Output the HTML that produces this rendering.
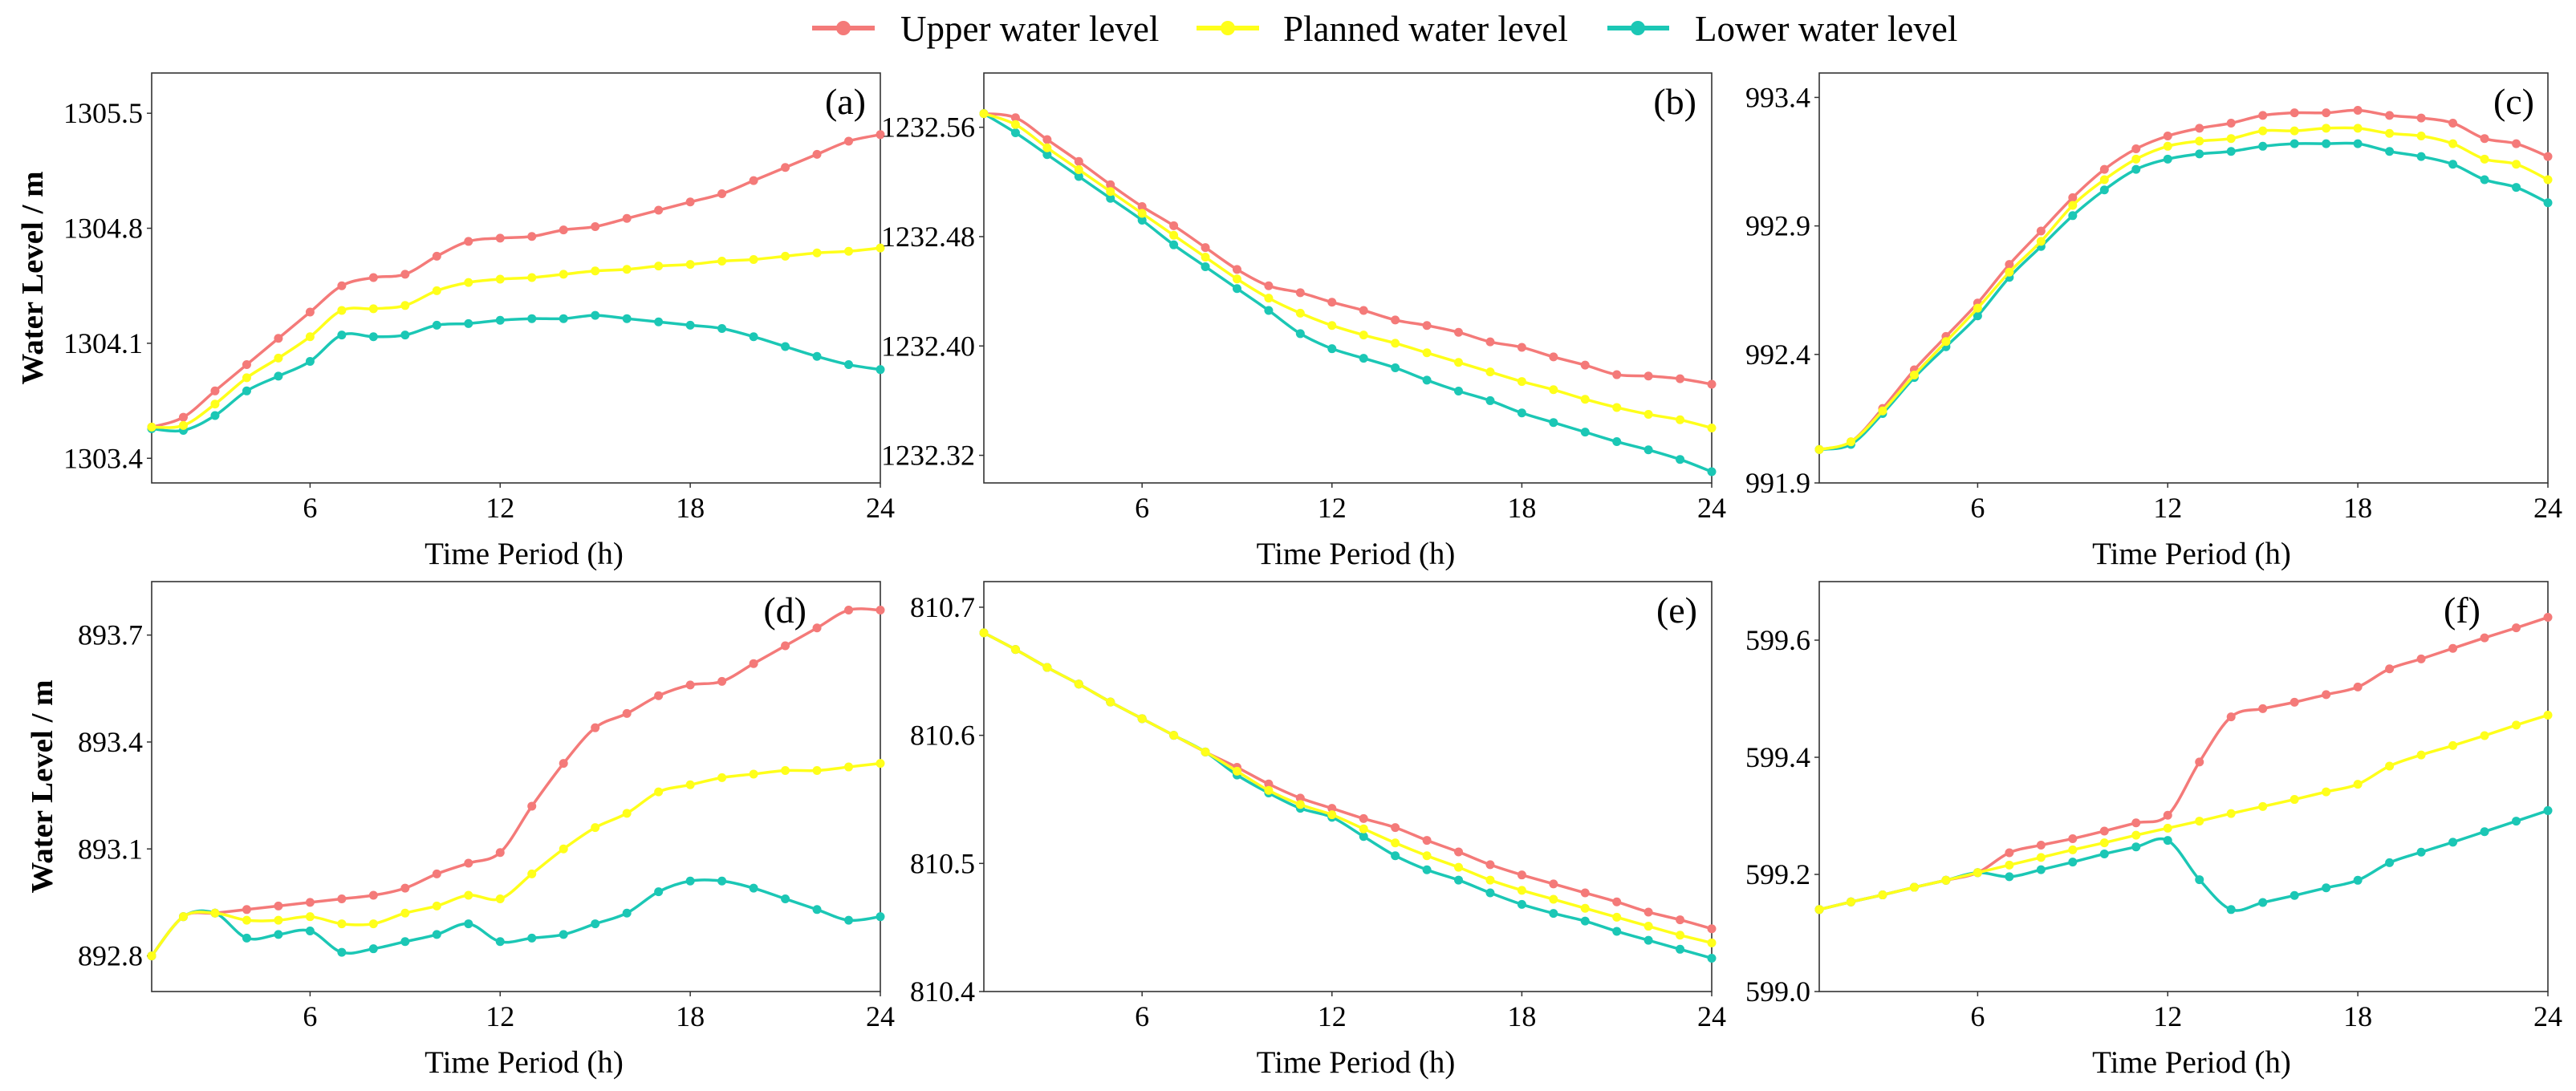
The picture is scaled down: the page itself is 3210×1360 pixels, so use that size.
<!DOCTYPE html>
<html><head><meta charset="utf-8"><style>
html,body{margin:0;padding:0;background:#fff;}
svg{display:block;font-family:"Liberation Serif",serif;}
</style></head><body>
<svg id="fig" width="3210" height="1360" viewBox="0 0 3210 1360" xmlns="http://www.w3.org/2000/svg">
<g id="legend">
  <g>
    <line x1="1012" y1="35" x2="1090" y2="35" stroke="#F47A79" stroke-width="6"/>
    <circle cx="1051" cy="35" r="9" fill="#F47A79"/>
    <text x="1122" y="51" font-size="45">Upper water level</text>
  </g>
  <g>
    <line x1="1491" y1="35" x2="1569" y2="35" stroke="#FFFF1A" stroke-width="6"/>
    <circle cx="1530" cy="35" r="9" fill="#FFFF1A"/>
    <text x="1599" y="51" font-size="45">Planned water level</text>
  </g>
  <g>
    <line x1="2003" y1="35" x2="2080" y2="35" stroke="#1BC7B5" stroke-width="6"/>
    <circle cx="2041" cy="35" r="9" fill="#1BC7B5"/>
    <text x="2112" y="51" font-size="45">Lower water level</text>
  </g>
</g>
</svg>
<script>
const hours = [1,2,3,4,5,6,7,8,9,10,11,12,13,14,15,16,17,18,19,20,21,22,23,24];
const xTicks = [6,12,18,24];

const upperA = [1303.59,1303.65,1303.81,1303.97,1304.13,1304.29,1304.45,1304.50,1304.52,1304.63,1304.72,1304.74,1304.75,1304.79,1304.81,1304.86,1304.91,1304.96,1305.01,1305.09,1305.17,1305.25,1305.33,1305.37];
const plannedA = [1303.59,1303.60,1303.73,1303.89,1304.01,1304.14,1304.30,1304.31,1304.33,1304.42,1304.47,1304.49,1304.50,1304.52,1304.54,1304.55,1304.57,1304.58,1304.60,1304.61,1304.63,1304.65,1304.66,1304.68];
const lowerA = [1303.58,1303.57,1303.66,1303.81,1303.90,1303.99,1304.15,1304.14,1304.15,1304.21,1304.22,1304.24,1304.25,1304.25,1304.27,1304.25,1304.23,1304.21,1304.19,1304.14,1304.08,1304.02,1303.97,1303.94];
const ticksA = ["1303.4","1304.1","1304.8","1305.5"];

const upperB = [1232.570,1232.567,1232.551,1232.535,1232.518,1232.502,1232.488,1232.472,1232.456,1232.444,1232.439,1232.432,1232.426,1232.419,1232.415,1232.410,1232.403,1232.399,1232.392,1232.386,1232.379,1232.378,1232.376,1232.372];
const plannedB = [1232.570,1232.562,1232.545,1232.529,1232.513,1232.497,1232.481,1232.465,1232.449,1232.435,1232.424,1232.415,1232.408,1232.402,1232.395,1232.388,1232.381,1232.374,1232.368,1232.361,1232.355,1232.350,1232.346,1232.340];
const lowerB = [1232.570,1232.556,1232.540,1232.524,1232.508,1232.492,1232.474,1232.458,1232.442,1232.426,1232.409,1232.398,1232.391,1232.384,1232.375,1232.367,1232.360,1232.351,1232.344,1232.337,1232.330,1232.324,1232.317,1232.308];
const ticksB = ["1232.32","1232.40","1232.48","1232.56"];

const upperC = [992.03,992.06,992.19,992.34,992.47,992.60,992.75,992.88,993.01,993.12,993.20,993.25,993.28,993.30,993.33,993.34,993.34,993.35,993.33,993.32,993.30,993.24,993.22,993.17];
const plannedC = [992.03,992.06,992.18,992.32,992.45,992.58,992.72,992.84,992.98,993.08,993.16,993.21,993.23,993.24,993.27,993.27,993.28,993.28,993.26,993.25,993.22,993.16,993.14,993.08];
const lowerC = [992.03,992.05,992.17,992.31,992.43,992.55,992.70,992.82,992.94,993.04,993.12,993.16,993.18,993.19,993.21,993.22,993.22,993.22,993.19,993.17,993.14,993.08,993.05,992.99];
const ticksC = ["991.9","992.4","992.9","993.4"];

const upperD = [892.80,892.91,892.92,892.93,892.94,892.95,892.96,892.97,892.99,893.03,893.06,893.09,893.22,893.34,893.44,893.48,893.53,893.56,893.57,893.62,893.67,893.72,893.77,893.77];
const plannedD = [892.80,892.91,892.92,892.90,892.90,892.91,892.89,892.89,892.92,892.94,892.97,892.96,893.03,893.10,893.16,893.20,893.26,893.28,893.30,893.31,893.32,893.32,893.33,893.34];
const lowerD = [892.80,892.91,892.92,892.85,892.86,892.87,892.81,892.82,892.84,892.86,892.89,892.84,892.85,892.86,892.89,892.92,892.98,893.01,893.01,892.99,892.96,892.93,892.90,892.91];
const ticksD = ["892.8","893.1","893.4","893.7"];

const upperE = [810.680,810.667,810.653,810.640,810.626,810.613,810.600,810.587,810.575,810.562,810.551,810.543,810.535,810.528,810.518,810.509,810.499,810.491,810.484,810.477,810.470,810.462,810.456,810.449];
const plannedE = [810.680,810.667,810.653,810.640,810.626,810.613,810.600,810.587,810.572,810.557,810.546,810.538,810.527,810.516,810.506,810.497,810.487,810.479,810.472,810.465,810.458,810.451,810.444,810.438];
const lowerE = [810.680,810.667,810.653,810.640,810.626,810.613,810.600,810.587,810.569,810.555,810.543,810.536,810.521,810.506,810.495,810.487,810.477,810.468,810.461,810.455,810.447,810.440,810.433,810.426];
const ticksE = ["810.4","810.5","810.6","810.7"];

const upperF = [599.140,599.153,599.165,599.178,599.190,599.203,599.237,599.250,599.261,599.274,599.288,599.301,599.392,599.469,599.483,599.494,599.507,599.520,599.551,599.568,599.586,599.604,599.621,599.639];
const plannedF = [599.140,599.153,599.165,599.178,599.190,599.203,599.216,599.229,599.242,599.254,599.267,599.279,599.291,599.304,599.316,599.328,599.341,599.354,599.385,599.404,599.420,599.437,599.455,599.472];
const lowerF = [599.140,599.153,599.165,599.178,599.190,599.203,599.196,599.208,599.221,599.235,599.247,599.258,599.191,599.140,599.152,599.164,599.177,599.190,599.220,599.238,599.255,599.273,599.291,599.309];
const ticksF = ["599.0","599.2","599.4","599.6"];

const panels = [
 {id:"a", x0:189,x1:1097,y0:91,y1:602, lo:1303.25,hi:1305.745, up:upperA,pl:plannedA,lw:lowerA,ticks:ticksA, lblX:1079,lblY:142, yl:true, ylx:40},
 {id:"b", x0:1226,x1:2133,y0:91,y1:602, lo:1232.2998,hi:1232.5997, up:upperB,pl:plannedB,lw:lowerB,ticks:ticksB, lblX:2114,lblY:142},
 {id:"c", x0:2267,x1:3175,y0:91,y1:602, lo:991.9,hi:993.495, up:upperC,pl:plannedC,lw:lowerC,ticks:ticksC, lblX:3158,lblY:142},
 {id:"d", x0:189,x1:1097,y0:725,y1:1236, lo:892.70,hi:893.85, up:upperD,pl:plannedD,lw:lowerD,ticks:ticksD, lblX:1005,lblY:776, yl:true, ylx:52},
 {id:"e", x0:1226,x1:2133,y0:725,y1:1236, lo:810.4,hi:810.72, up:upperE,pl:plannedE,lw:lowerE,ticks:ticksE, lblX:2115,lblY:776},
 {id:"f", x0:2267,x1:3175,y0:725,y1:1236, lo:599.0,hi:599.70, up:upperF,pl:plannedF,lw:lowerF,ticks:ticksF, lblX:3091,lblY:776}
];
const NS="http://www.w3.org/2000/svg";
const svg=document.getElementById('fig');
function mk(tag,attrs,parent){const e=document.createElementNS(NS,tag);for(const k in attrs)e.setAttribute(k,attrs[k]);parent.appendChild(e);return e;}
function spline(pts){
  let d="M"+pts[0][0]+","+pts[0][1];
  for(let i=0;i<pts.length-1;i++){
    const p0=pts[Math.max(0,i-1)],p1=pts[i],p2=pts[i+1],p3=pts[Math.min(pts.length-1,i+2)];
    const t=1/6;
    const c1x=p1[0]+(p2[0]-p0[0])*t,c1y=p1[1]+(p2[1]-p0[1])*t;
    const c2x=p2[0]-(p3[0]-p1[0])*t,c2y=p2[1]-(p3[1]-p1[1])*t;
    d+=" C"+c1x+","+c1y+" "+c2x+","+c2y+" "+p2[0]+","+p2[1];
  }
  return d;
}
panels.forEach(p=>{
  const g=mk('g',{},svg);
  
  
  const sx=h=>p.x0+(h-1)/(23)*(p.x1-p.x0);
  const sy=v=>p.y1-(v-p.lo)/(p.hi-p.lo)*(p.y1-p.y0);
  const frame=mk('rect',{x:p.x0,y:p.y0,width:p.x1-p.x0,height:p.y1-p.y0,fill:"none",stroke:"#333","stroke-width":1.6},g);
  
  
  xTicks.forEach(t=>{
    const x=sx(t);
    mk('line',{x1:x,y1:p.y1,x2:x,y2:p.y1+6,stroke:"#333","stroke-width":1.5},g);
    const tx=mk('text',{x:x,y:p.y1+43,"font-size":36,"text-anchor":"middle"},g);
    tx.textContent=t;
    
    
  });
  p.ticks.forEach(t=>{
    const y=sy(parseFloat(t));
    mk('line',{x1:p.x0-6,y1:y,x2:p.x0,y2:y,stroke:"#333","stroke-width":1.5},g);
    const tx=mk('text',{x:p.x0-11,y:y+12,"font-size":36,"text-anchor":"end"},g);
    tx.textContent=t;
    
    
  });
  const xl=mk('text',{x:(p.x0+p.x1)/2+10,y:p.y1+101,"font-size":39,"text-anchor":"middle"},g);
  xl.textContent="Time Period (h)";
  
  
  if(p.yl){
    const cy=(p.y0+p.y1)/2;
    const yl=mk('text',{x:0,y:0,"font-size":38,"font-weight":"bold","text-anchor":"middle",textLength:266,lengthAdjust:"spacingAndGlyphs",transform:"translate("+(p.ylx+13)+","+cy+") rotate(-90)"},g);
    yl.textContent="Water Level / m";
    
    
  }
  const lab=mk('text',{x:p.lblX,y:p.lblY,"font-size":46,"text-anchor":"end"},g);
  lab.textContent="("+p.id+")";
  
  
  const series=[["upper",p.up,"#F47A79"],["lower",p.lw,"#1BC7B5"],["planned",p.pl,"#FFFF1A"]];
  series.forEach(s=>{
    const pts=hours.map((h,i)=>[sx(h),sy(s[1][i])]);
    const path=mk('path',{d:spline(pts),fill:"none",stroke:s[2],"stroke-width":3.5},g);
    
    
    pts.forEach(pt=>{
      const c=mk('circle',{cx:pt[0],cy:pt[1],r:5.5,fill:s[2]},g);
      
      
    });
  });
});
</script>
</body></html>
